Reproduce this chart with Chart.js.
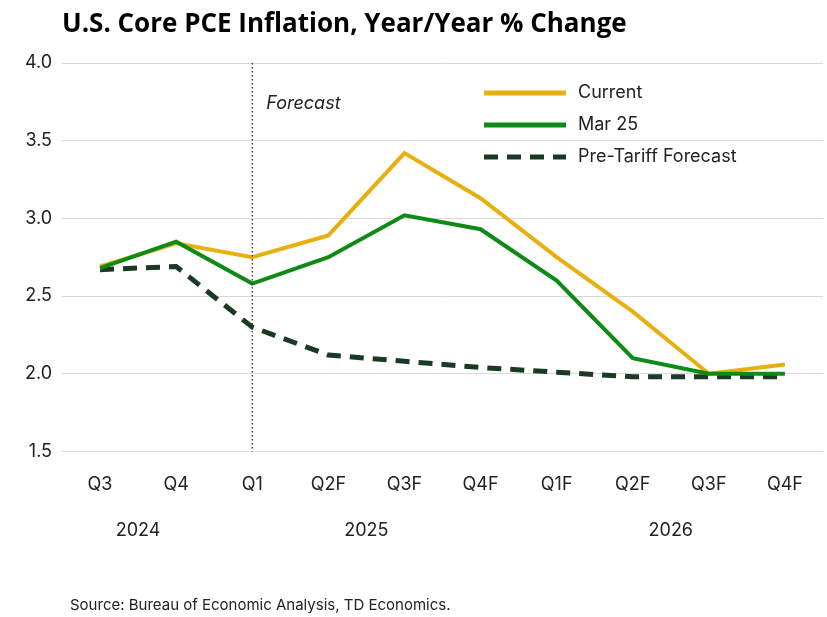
<!DOCTYPE html>
<html><head><meta charset="utf-8">
<script src="https://cdn.jsdelivr.net/npm/chart.js@4"></script>
<style>html,body{margin:0;background:#fff}#wrap{width:827px;height:617px}</style>
</head><body><div id="wrap"><canvas id="c"></canvas></div>
<script>
const quarters = ['Q3','Q4','Q1','Q2F','Q3F','Q4F','Q1F','Q2F','Q3F','Q4F'];
const current = [2.69,2.84,2.75,2.89,3.42,3.13,2.75,2.40,2.00,2.06];
const mar25 = [2.68,2.85,2.58,2.75,3.02,2.93,2.60,2.10,2.00,2.00];
const preTariff = [2.67,2.69,2.30,2.12,2.08,2.04,2.01,1.98,1.98,1.98];
const years = [{label:'2024', at:0.5},{label:'2025', at:3.5},{label:'2026', at:7.5}];
const yTicks = [1.5,2.0,2.5,3.0,3.5,4.0];
const FONT = 'Inter, "Noto Sans", sans-serif';

const extras = {
  id:'extras',
  afterDraw(chart){
    const {ctx, chartArea:a, scales:{x,y}} = chart;
    ctx.save();
    ctx.fillStyle='#000';
    ctx.font='bold 26px "Open Sans", sans-serif';
    ctx.textBaseline='middle';
    ctx.fillText('U.S. Core PCE Inflation, Year/Year % Change',62,25);
    // forecast line
    const fx = x.getPixelForValue(2);
    ctx.setLineDash([1.5,2.5]); ctx.strokeStyle='#222'; ctx.lineWidth=1.2;
    ctx.beginPath(); ctx.moveTo(fx,a.top); ctx.lineTo(fx,a.bottom); ctx.stroke();
    ctx.setLineDash([]);
    ctx.font='italic 18px '+FONT; ctx.fillStyle='#222';
    ctx.fillText('Forecast',fx+14,104);
    // years
    ctx.font='18px '+FONT; ctx.textAlign='center';
    years.forEach(yr=>{
      const p = (x.getPixelForValue(Math.floor(yr.at))+x.getPixelForValue(Math.ceil(yr.at)))/2;
      ctx.fillText(yr.label,p,531);
    });
    // legend
    ctx.textAlign='left';
    const items=[['Current','#e8b00f',[]],['Mar 25','#0e8a16',[]],['Pre-Tariff Forecast','#1b3a24',[14,9]]];
    items.forEach((it,i)=>{
      const ly=93+i*32;
      ctx.strokeStyle=it[1]; ctx.lineWidth=5; ctx.setLineDash(it[2]);
      ctx.beginPath(); ctx.moveTo(484,ly); ctx.lineTo(566,ly); ctx.stroke();
      ctx.setLineDash([]);
      ctx.fillStyle='#222'; ctx.fillText(it[0],578,ly);
    });
    ctx.font='15px '+FONT; ctx.fillStyle='#222';
    ctx.fillText('Source: Bureau of Economic Analysis, TD Economics.',70,605);
    ctx.restore();
  }
};

new Chart(document.getElementById('c'),{
  type:'line',
  data:{labels:quarters,datasets:[
    {label:'Pre-Tariff Forecast',data:preTariff,borderColor:'#1b3a24',borderWidth:5,borderDash:[14,9],pointRadius:0,tension:0,order:3},
    {label:'Current',data:current,borderColor:'#e8b00f',borderWidth:4,pointRadius:0,tension:0,order:2},
    {label:'Mar 25',data:mar25,borderColor:'#0e8a16',borderWidth:4,pointRadius:0,tension:0,order:1}
  ]},
  options:{
    responsive:true,maintainAspectRatio:false,animation:false,
    layout:{padding:{top:63,right:4,bottom:108,left:5}},
    plugins:{legend:{display:false},tooltip:{enabled:false}},
    scales:{
      x:{offset:true,grid:{display:false},border:{display:false},
        ticks:{color:'#222',font:{family:FONT,size:18},padding:14}},
      y:{min:1.5,max:4.0,afterFit:s=>{s.width=57;},
        afterBuildTicks:s=>{s.ticks=yTicks.map(v=>({value:v}));},
        grid:{color:'#d9d9d9',drawTicks:false},border:{display:false},
        ticks:{color:'#222',font:{family:FONT,size:18},padding:10,callback:v=>v.toFixed(1)}}
    }
  },
  plugins:[extras]
});
</script></body></html>
